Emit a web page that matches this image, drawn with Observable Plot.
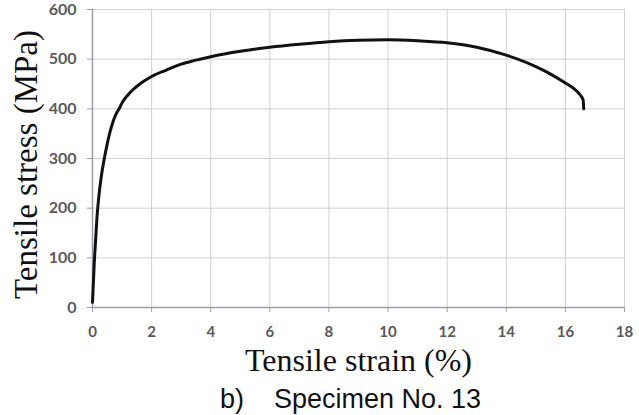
<!DOCTYPE html>
<html>
<head>
<meta charset="utf-8">
<script src="https://cdn.jsdelivr.net/npm/d3@7"></script>
<script src="https://cdn.jsdelivr.net/npm/@observablehq/plot@0.6"></script>
<style>
  html, body { margin: 0; padding: 0; background: #fff; }
  #wrap { position: relative; width: 639px; height: 415px; }
  #caption { position: absolute; left: 220px; top: 384px; font-family: "Liberation Sans", Arial, sans-serif; font-size: 27px; color: #111; line-height: 30px; white-space: pre; }
</style>
</head>
<body>
<div id="wrap">
<div id="chart"></div>
<div id="caption">b)    Specimen No. 13</div>
</div>
<script>
const strain = [0, 0.03, 0.06, 0.1, 0.15, 0.2, 0.3, 0.4, 0.5, 0.6, 0.7, 0.8, 0.9, 1.0, 1.2, 1.4, 1.6, 1.8, 2.0, 2.5, 3.0, 3.5, 4.0, 5.0, 6.0, 7.0, 8.0, 9.0, 10.0, 11.0, 12.0, 13.0, 14.0, 15.0, 15.5, 16.0, 16.3, 16.5, 16.6, 16.62];
const stress = [10, 50, 90, 130, 180, 215, 265, 300, 330, 355, 375, 390, 400, 412, 428, 440, 450, 458, 465, 478, 490, 498, 505, 516, 524, 530, 535, 538, 539, 537, 533, 524, 508, 485, 470, 452, 440, 428, 418, 400];
const xTicks = [0, 2, 4, 6, 8, 10, 12, 14, 16, 18];
const yTicks = [0, 100, 200, 300, 400, 500, 600];
const xTitle = "Tensile strain (%)";
const yTitle = "Tensile stress (MPa)";

const data = strain.map((s, i) => ({strain: s, stress: stress[i]}));
const serif = "'Liberation Serif', 'Times New Roman', serif";

const chart = Plot.plot({
  width: 639,
  height: 384,
  marginLeft: 92,
  marginRight: 15,
  marginTop: 9,
  marginBottom: 77,
  style: {fontFamily: "Lato, 'Open Sans', sans-serif", background: "#fff", overflow: "visible"},
  x: {domain: [0, 18]},
  y: {domain: [0, 600]},
  marks: [
    Plot.gridX(xTicks, {stroke: "#cfcfd4", strokeOpacity: 1, strokeWidth: 1}),
    Plot.gridY(yTicks, {stroke: "#cfcfd4", strokeOpacity: 1, strokeWidth: 1}),
    Plot.ruleY([0], {stroke: "#9a9aaa", strokeWidth: 1.5}),
    Plot.ruleX([0], {stroke: "#9a9aaa", strokeWidth: 1.5}),
    Plot.axisX(xTicks, {tickSize: 5, tickPadding: 14, stroke: "#9a9aaa", fill: "#5a5a5a", fontSize: 15, fontWeight: "bold", label: null}),
    Plot.axisY(yTicks, {tickSize: 5, tickPadding: 11, stroke: "#9a9aaa", fill: "#5a5a5a", fontSize: 16, fontWeight: "bold", label: null}),
    Plot.line(data, {x: "strain", y: "stress", stroke: "#111", strokeWidth: 3, curve: "monotone-x"}),
    Plot.text([xTitle], {frameAnchor: "bottom", dy: 63, fontFamily: serif, fontSize: 32, fill: "#111", text: d => d}),
    Plot.text([yTitle], {frameAnchor: "left", dx: -66, dy: 6, rotate: -90, textAnchor: "middle", fontFamily: serif, fontSize: 33, fill: "#111", text: d => d})
  ]
});
document.getElementById("chart").appendChild(chart);
</script>
</body>
</html>
